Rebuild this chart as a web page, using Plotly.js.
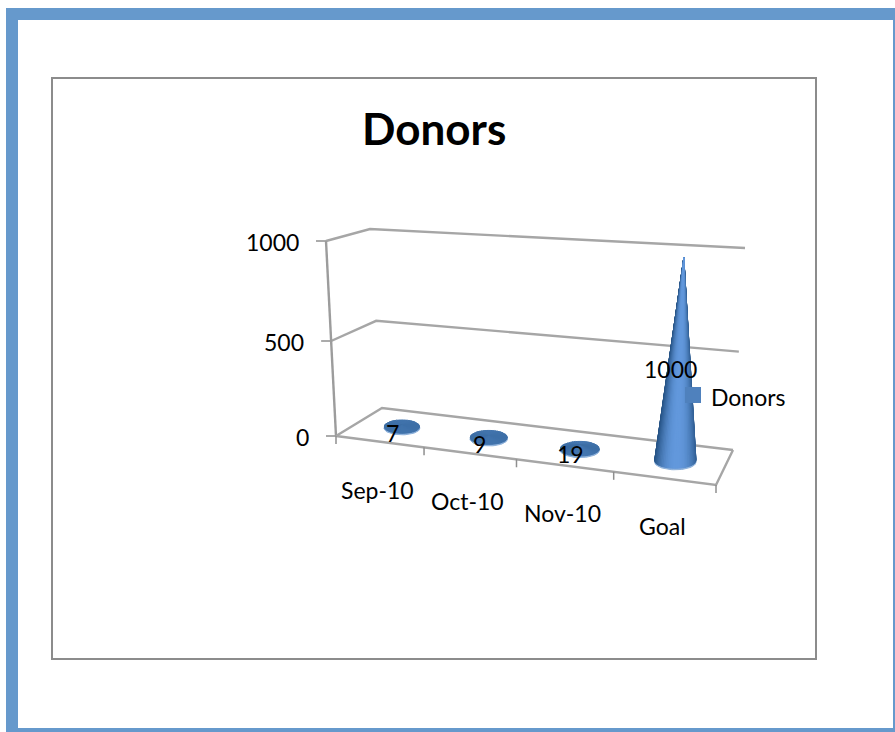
<!DOCTYPE html>
<html>
<head>
<meta charset="utf-8">
<script src="https://cdn.plot.ly/plotly-3.0.1.min.js"></script>
<style>html,body{margin:0;padding:0;background:#fff;overflow:hidden}#chart{width:895px;height:732px}</style>
</head>
<body>
<div id="chart"></div>
<script>
// ---- data ----
const chartTitle = "Donors";
const seriesName = "Donors";
const categories = ["Sep-10", "Oct-10", "Nov-10", "Goal"];
const donors = [7, 9, 19, 1000];
const valueTicks = [0, 500, 1000];
const valueMax = 1000;

// ---- 3D-look scale: (category, depth, value) -> pixel ----
const floorQuad = [[336,436],[716,485],[733,450],[382,408]];
// how far the top of the value axis sits from each floor corner
const riseQuad  = [[-10,-195],[10.6,-208],[12,-202],[-12,-179]];
function homography(q){
  const [[x0,y0],[x1,y1],[x2,y2],[x3,y3]] = q;
  const dx1=x1-x2, dx2=x3-x2, sx=x0-x1+x2-x3;
  const dy1=y1-y2, dy2=y3-y2, sy=y0-y1+y2-y3;
  const det=dx1*dy2-dx2*dy1;
  const g=(sx*dy2-dx2*sy)/det, h=(dx1*sy-sx*dy1)/det;
  const a=x1-x0+g*x1, b=x3-x0+h*x3, d=y1-y0+g*y1, e=y3-y0+h*y3;
  return (u,w)=>{const n=g*u+h*w+1; return [(a*u+b*w+x0)/n,(d*u+e*w+y0)/n];};
}
const floorH = homography(floorQuad);
function rise(u,w,k){
  const [fl,fr,br,bl]=riseQuad;
  return (fl[k]*(1-u)+fr[k]*u)*(1-w)+(bl[k]*(1-u)+br[k]*u)*w;
}
function P(cat, depth, value){
  const u = cat/categories.length;
  const a = floorH(u,depth);
  const t0 = value/valueMax, k = 0.95;
  const t = t0*k/(1+(k-1)*t0);
  return [a[0]+rise(u,depth,0)*t, a[1]+rise(u,depth,1)*t];
}

// ---- helpers ----
const traces = [];
const annotations = [];
const FONT = "Lato, Carlito, 'Open Sans', sans-serif";
function line(pts, color, width){
  traces.push({type:"scatter",mode:"lines",x:pts.map(p=>p[0]),y:pts.map(p=>p[1]),
    line:{color:color||"#a6a6a6",width:width||2.4},hoverinfo:"skip",showlegend:false});
}
function poly(pts, color){
  traces.push({type:"scatter",mode:"lines",x:pts.map(p=>p[0]),y:pts.map(p=>p[1]),fill:"toself",
    fillcolor:color,line:{color:color,width:1},hoverinfo:"skip",showlegend:false});
}
function label(text,x,y,size,anchor,bold){
  annotations.push({text:bold?"<b>"+text+"</b>":text,x,y,xref:"x",yref:"y",showarrow:false,borderpad:0,
    xanchor:anchor||"center",yanchor:"middle",font:{family:FONT,size:size,color:"#000"}});
}
function mix(c1,c2,t){
  const r=c1.map((v,i)=>Math.round(v+(c2[i]-v)*t));
  return "rgb("+r.join(",")+")";
}

// ---- walls and floor ----
const nC = categories.length;
valueTicks.forEach(v=>{
  line([P(0,0,v),P(0,1,v),P(nC,1,v)]);
  const f=P(0,0,v);
  line([[f[0]-10,f[1]],f],"#8f8f8f",1.5);
  label(String(v),f[0]-26,f[1]+1,23,"right");
});
line([P(0,0,0),P(0,0,valueMax)],"#9c9c9c",2.4);
line([P(0,0,0),P(nC,0,0),P(nC,1,0)]);
for(let i=0;i<=nC;i++){
  const f=P(i,0,0);
  line([f,[f[0],f[1]+8]],"#8f8f8f",1.5);
}

// ---- cones ----
const DARK=[44,90,142], LIGHT=[98,152,220], FLAT=[62,112,168], RIM=[140,176,218];
const SEG=64;
donors.forEach((v,i)=>{
  const c=P(i+0.5,0.5,0), tip=P(i+0.5,0.5,v);
  const rx=P(i+0.71,0.5,0)[0]-c[0], ry=rx*0.37;
  const pt=(th,dy)=>[c[0]+rx*Math.cos(th),c[1]+ry*Math.sin(th)+(dy||0)];
  // lighter rim below the base
  const rim=[];for(let s=0;s<=SEG;s++)rim.push(pt(2*Math.PI*s/SEG,1.6));
  poly(rim,mix(RIM,RIM,0));
  const height=c[1]-tip[1];
  const tall=Math.min(1,height/(3*ry));
  const segs=[];
  for(let s=0;s<SEG;s++){
    const a=2*Math.PI*s/SEG,b=2*Math.PI*(s+1)/SEG,m=(a+b)/2;
    segs.push({a,b,m});
  }
  segs.sort((p,q)=>Math.sin(p.m)-Math.sin(q.m));
  segs.forEach(sg=>{
    const x=Math.cos(sg.m);
    const shade=1-Math.pow(Math.abs(x-0.05),2.2);
    const g=DARK.map((d,k)=>d+(LIGHT[k]-d)*shade);
    poly([tip,pt(sg.a),pt(sg.b),tip],mix(FLAT,g,tall));
  });
});

// ---- labels ----
categories.forEach((c,i)=>{
  const f=P(i+0.5,0,0);
  label(c,f[0]-2,f[1]+48,23);
});
donors.forEach((v,i)=>{
  const m=P(i+0.5,0.5,v/2);
  label(String(v),m[0]-9,m[1]+7,23);
});
label(chartTitle,434,128,44,"center",true);
label(seriesName,710,397,23,"left");

const shapes=[
  {type:"rect",xref:"x",yref:"y",x0:6,x1:900,y0:8,y1:740,fillcolor:"#6699cc",line:{width:0},layer:"below"},
  {type:"rect",xref:"x",yref:"y",x0:18,x1:893,y0:20,y1:728,fillcolor:"#ffffff",line:{width:0},layer:"below"},
  {type:"rect",xref:"x",yref:"y",x0:52,x1:816,y0:78,y1:659,fillcolor:"rgba(0,0,0,0)",line:{color:"#8c8c8c",width:2},layer:"below"},
  {type:"rect",xref:"x",yref:"y",x0:685,x1:701,y0:387,y1:403,fillcolor:"#4f81bd",line:{width:0},layer:"above"}
];

Plotly.newPlot("chart",traces,{
  width:895,height:732,margin:{l:0,r:0,t:0,b:0},
  paper_bgcolor:"#fff",plot_bgcolor:"#fff",showlegend:false,
  xaxis:{range:[0,895],visible:false,fixedrange:true},
  yaxis:{range:[732,0],visible:false,fixedrange:true},
  shapes,annotations
},{displayModeBar:false,staticPlot:true});
</script>
</body>
</html>
